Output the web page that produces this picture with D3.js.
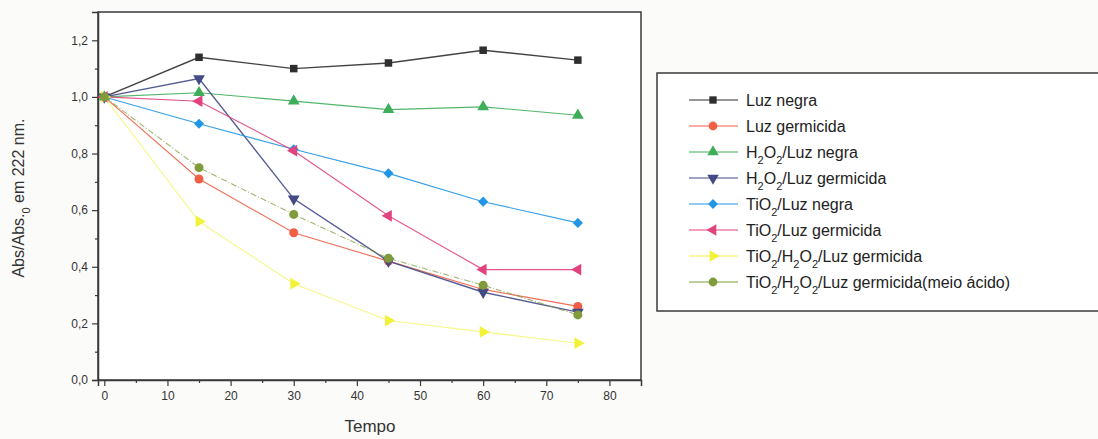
<!DOCTYPE html>
<html>
<head>
<meta charset="utf-8">
<script src="https://cdn.jsdelivr.net/npm/d3@7"></script>
<style>
  body { margin: 0; background: #fbfbf9; }
  text { font-family: "Liberation Sans", Arial, sans-serif; }
</style>
</head>
<body>
<div id="chart"></div>
<script>
var tempo = [0, 15, 30, 45, 60, 75];

var luzNegra = [1.0, 1.14, 1.10, 1.12, 1.165, 1.13];
var luzGerm = [1.0, 0.71, 0.52, 0.42, 0.32, 0.26];
var h2o2Negra = [1.0, 1.015, 0.985, 0.955, 0.965, 0.935];
var h2o2Germ = [1.0, 1.065, 0.64, 0.42, 0.31, 0.24];
var tio2Negra = [1.0, 0.905, 0.815, 0.73, 0.63, 0.555];
var tio2Germ = [1.0, 0.985, 0.81, 0.58, 0.39, 0.39];
var tio2h2o2Germ = [1.0, 0.56, 0.34, 0.21, 0.17, 0.13];
var tio2h2o2Acido = [1.0, 0.75, 0.585, 0.43, 0.335, 0.23];

var xTicks = [0, 10, 20, 30, 40, 50, 60, 70, 80];
var yTicks = [0, 0.2, 0.4, 0.6, 0.8, 1.0, 1.2];

// legend labels as pieces: [text, isSubscript]
var series = [
  {vals: luzNegra, color: "#2f2f2f", sym: "square", label: [["Luz negra", 0]]},
  {vals: luzGerm, color: "#ef5f45", sym: "circle", label: [["Luz germicida", 0]]},
  {vals: h2o2Negra, color: "#3fae5a", sym: "up", label: [["H", 0], ["2", 1], ["O", 0], ["2", 1], ["/Luz negra", 0]]},
  {vals: h2o2Germ, color: "#434a86", sym: "down", label: [["H", 0], ["2", 1], ["O", 0], ["2", 1], ["/Luz germicida", 0]]},
  {vals: tio2Negra, color: "#2196e6", sym: "diamond", label: [["TiO", 0], ["2", 1], ["/Luz negra", 0]]},
  {vals: tio2Germ, color: "#e2437f", sym: "left", label: [["TiO", 0], ["2", 1], ["/Luz germicida", 0]]},
  {vals: tio2h2o2Germ, color: "#f2f23a", sym: "right", label: [["TiO", 0], ["2", 1], ["/H", 0], ["2", 1], ["O", 0], ["2", 1], ["/Luz germicida", 0]]},
  {vals: tio2h2o2Acido, color: "#7f9b3a", sym: "circle", label: [["TiO", 0], ["2", 1], ["/H", 0], ["2", 1], ["O", 0], ["2", 1], ["/Luz germicida(meio ácido)", 0]]}
];

var width = 1098, height = 439;
var plotLeft = 98, plotRight = 641, plotTop = 12, plotBottom = 380;

var svg = d3.select("#chart").append("svg")
  .attr("width", width)
  .attr("height", height);

var x = d3.scaleLinear().domain([-1, 85]).range([plotLeft, plotRight]);
var y = d3.scaleLinear().domain([0, 1.3]).range([plotBottom, plotTop]);

var fmt = function(d){ return d3.format(".1f")(d).replace(".", ","); };

// frame
svg.append("rect")
  .attr("x", plotLeft).attr("y", plotTop)
  .attr("width", plotRight - plotLeft).attr("height", plotBottom - plotTop)
  .attr("fill", "#fff").attr("stroke", "#3a3a3a").attr("stroke-width", 1.5);

// x axis
svg.append("g").attr("transform", "translate(0," + plotBottom + ")")
  .call(d3.axisBottom(x).tickValues(xTicks).tickSize(6).tickPadding(5).tickFormat(d3.format("d")));
svg.append("g").attr("transform", "translate(0," + plotBottom + ")")
  .call(d3.axisBottom(x).tickValues(d3.range(5, 85, 10)).tickSize(3).tickFormat(""))
  .select(".domain").remove();

// y axis
svg.append("g").attr("transform", "translate(" + plotLeft + ",0)")
  .call(d3.axisLeft(y).tickValues(yTicks).tickSize(6).tickPadding(4).tickFormat(fmt));
svg.append("g").attr("transform", "translate(" + plotLeft + ",0)")
  .call(d3.axisLeft(y).tickValues(d3.range(0.1, 1.3, 0.2)).tickSize(3).tickFormat(""))
  .select(".domain").remove();

svg.selectAll(".domain").attr("stroke", "#3a3a3a").attr("stroke-width", 1.5);
svg.selectAll(".tick line").attr("stroke", "#3a3a3a").attr("stroke-width", 1.2);
svg.selectAll(".tick text").attr("fill", "#333").style("font-size", "12px");

// axis titles
svg.append("text")
  .attr("x", 370).attr("y", 432)
  .attr("text-anchor", "middle")
  .attr("fill", "#333")
  .style("font-size", "17px")
  .text("Tempo");

var yt = svg.append("text")
  .attr("transform", "translate(24,198) rotate(-90)")
  .attr("text-anchor", "middle")
  .attr("fill", "#333")
  .style("font-size", "16px");
yt.append("tspan").text("Abs/Abs.");
yt.append("tspan").attr("baseline-shift", "sub").style("font-size", "11px").text("0");
yt.append("tspan").text(" em 222 nm.");

// markers
function symbolPath(sym, r) {
  if (sym === "square") return d3.symbol(d3.symbolSquare, r * r * 3.2)();
  if (sym === "circle") return d3.symbol(d3.symbolCircle, r * r * 3.6)();
  if (sym === "diamond") return "M0," + (-r * 1.2) + "L" + (r * 1.2) + ",0L0," + (r * 1.2) + "L" + (-r * 1.2) + ",0Z";
  return d3.symbol(d3.symbolTriangle, r * r * 3.4)();
}
function symbolRotate(sym) {
  if (sym === "down") return 180;
  if (sym === "left") return -90;
  if (sym === "right") return 90;
  return 0;
}

var line = d3.line()
  .x(function(d, i){ return x(tempo[i]); })
  .y(function(d){ return y(d); });

series.forEach(function(s, k) {
  var g = svg.append("g");
  g.append("path")
    .datum(s.vals)
    .attr("d", line)
    .attr("fill", "none")
    .attr("stroke", s.color)
    .attr("stroke-width", k === 0 || k === 3 ? 1.4 : 1.1)
    .attr("stroke-dasharray", k === 7 ? "6,2,1,2" : null)
    .attr("opacity", k === 6 ? 0.6 : (k === 7 ? 0.75 : 0.9));
  g.selectAll("path.pt").data(s.vals).enter().append("path")
    .attr("class", "pt")
    .attr("d", symbolPath(s.sym, 4.2))
    .attr("transform", function(d, i){
      return "translate(" + x(tempo[i]) + "," + y(d) + ") rotate(" + symbolRotate(s.sym) + ")";
    })
    .attr("fill", s.color);
});

// legend
var lg = svg.append("g");
lg.append("rect")
  .attr("x", 657).attr("y", 73)
  .attr("width", 460).attr("height", 238)
  .attr("fill", "#fff").attr("stroke", "#3a3a3a").attr("stroke-width", 1.5);

var legendY = d3.scaleBand()
  .domain(d3.range(series.length))
  .range([87, 295]);

series.forEach(function(s, k) {
  var cy = legendY(k) + legendY.bandwidth() / 2;
  lg.append("line")
    .attr("x1", 689).attr("x2", 738)
    .attr("y1", cy).attr("y2", cy)
    .attr("stroke", s.color).attr("stroke-width", 1.2);
  lg.append("path")
    .attr("d", symbolPath(s.sym, 4.1))
    .attr("transform", "translate(713," + cy + ") rotate(" + symbolRotate(s.sym) + ")")
    .attr("fill", s.color);
  var t = lg.append("text")
    .attr("x", 746).attr("y", cy + 5.5)
    .attr("fill", "#222")
    .style("font-size", "16px");
  s.label.forEach(function(p) {
    var ts = t.append("tspan").text(p[0]);
    if (p[1]) ts.attr("baseline-shift", "sub").style("font-size", "11px");
  });
});
</script>
</body>
</html>
